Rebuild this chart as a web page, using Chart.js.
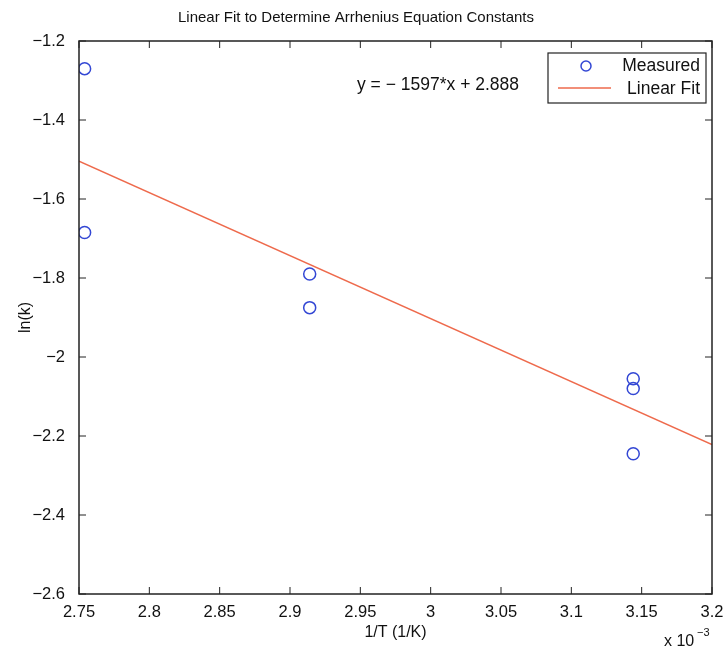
<!DOCTYPE html>
<html>
<head>
<meta charset="utf-8">
<script src="https://cdn.jsdelivr.net/npm/chart.js@4/dist/chart.umd.min.js"></script>
<style>
  html, body { margin: 0; padding: 0; background: #fff; }
  #wrap { width: 725px; height: 650px; }
</style>
</head>
<body>
<div id="wrap"><canvas id="chart1" width="725" height="650"></canvas></div>
<script>
// valores (x en unidades de 1e-3)
const invT = [2.754, 2.754, 2.914, 2.914, 3.144, 3.144, 3.144];
const lnK = [-1.27, -1.685, -1.79, -1.875, -2.055, -2.08, -2.245];
const fitX = [2.75, 3.2];
const fitY = [-1.504, -2.222];
const xTicks = [2.75, 2.8, 2.85, 2.9, 2.95, 3, 3.05, 3.1, 3.15, 3.2];
const yTicks = [-2.6, -2.4, -2.2, -2, -1.8, -1.6, -1.4, -1.2];
const equationText = "y = \u2212 1597*x + 2.888";

const FONT = "'Liberation Sans', Arial, sans-serif";
const BLUE = "#3347d4";
const RED = "#ee6a4c";

const minus = v => String(v).replace("-", "\u2212");

// marco, ticks hacia adentro, leyenda y textos extra estilo matlab
const matlabBox = {
  id: "matlabBox",
  afterDraw(chart) {
    const { ctx, chartArea: a, scales } = chart;
    ctx.save();
    ctx.strokeStyle = "#222";
    ctx.lineWidth = 1.5;
    ctx.strokeRect(a.left, a.top, a.right - a.left, a.bottom - a.top);
    ctx.lineWidth = 1;
    const tl = 7;
    xTicks.forEach(t => {
      const px = scales.x.getPixelForValue(t);
      ctx.beginPath();
      ctx.moveTo(px, a.bottom); ctx.lineTo(px, a.bottom - tl);
      ctx.moveTo(px, a.top); ctx.lineTo(px, a.top + tl);
      ctx.stroke();
    });
    yTicks.forEach(t => {
      const py = scales.y.getPixelForValue(t);
      ctx.beginPath();
      ctx.moveTo(a.left, py); ctx.lineTo(a.left + tl, py);
      ctx.moveTo(a.right, py); ctx.lineTo(a.right - tl, py);
      ctx.stroke();
    });

    // ecuacion
    ctx.fillStyle = "#111";
    ctx.font = "17.5px " + FONT;
    ctx.textBaseline = "middle";
    ctx.textAlign = "left";
    ctx.fillText(equationText, 357, 85);

    // leyenda
    ctx.fillStyle = "#fff";
    ctx.fillRect(548, 53, 158, 50);
    ctx.strokeStyle = "#222";
    ctx.lineWidth = 1.2;
    ctx.strokeRect(548, 53, 158, 50);
    ctx.strokeStyle = BLUE;
    ctx.lineWidth = 1.5;
    ctx.beginPath();
    ctx.arc(586, 66, 5, 0, Math.PI * 2);
    ctx.stroke();
    ctx.strokeStyle = RED;
    ctx.beginPath();
    ctx.moveTo(558, 88); ctx.lineTo(611, 88);
    ctx.stroke();
    ctx.fillStyle = "#111";
    ctx.font = "17.5px " + FONT;
    ctx.textAlign = "right";
    ctx.fillText("Measured", 700, 66);
    ctx.fillText("Linear Fit", 700, 89);

    // multiplicador del eje x
    ctx.textAlign = "left";
    ctx.font = "16px " + FONT;
    ctx.fillText("x 10", 664, 642);
    ctx.font = "11px " + FONT;
    ctx.fillText("\u22123", 697, 633);
    ctx.restore();
  }
};

new Chart(document.getElementById("chart1"), {
  type: "scatter",
  data: {
    datasets: [
      {
        label: "Measured",
        data: invT.map((x, i) => ({ x: x, y: lnK[i] })),
        showLine: false,
        pointRadius: 6,
        pointBorderWidth: 1.5,
        pointBackgroundColor: "rgba(0,0,0,0)",
        borderColor: BLUE
      },
      {
        label: "Linear Fit",
        data: fitX.map((x, i) => ({ x: x, y: fitY[i] })),
        showLine: true,
        pointRadius: 0,
        borderColor: RED,
        borderWidth: 1.5
      }
    ]
  },
  options: {
    responsive: false,
    animation: false,
    layout: { padding: { left: 0, right: 13, top: 0, bottom: 0 } },
    plugins: {
      legend: { display: false },
      tooltip: { enabled: false },
      title: {
        display: true,
        text: "Linear Fit to Determine Arrhenius Equation Constants",
        color: "#111",
        font: { family: FONT, size: 15, weight: "normal" },
        padding: { top: 9, bottom: 14 }
      }
    },
    scales: {
      x: {
        type: "linear",
        min: 2.75,
        max: 3.2,
        afterBuildTicks: s => { s.ticks = xTicks.map(v => ({ value: v })); },
        afterFit: s => { s.height = 56; s.paddingLeft = 0; s.paddingRight = 0; },
        grid: { display: false },
        border: { display: false },
        ticks: {
          color: "#111",
          padding: 1,
          maxRotation: 0,
          font: { family: FONT, size: 16.5 },
          callback: v => minus(v)
        },
        title: {
          display: true,
          text: "1/T (1/K)",
          color: "#111",
          font: { family: FONT, size: 16 },
          padding: { top: 2, bottom: 8 }
        }
      },
      y: {
        type: "linear",
        min: -2.6,
        max: -1.2,
        afterBuildTicks: s => { s.ticks = yTicks.map(v => ({ value: v })); },
        afterFit: s => { s.width = 79; },
        grid: { display: false },
        border: { display: false },
        ticks: {
          color: "#111",
          padding: 6,
          font: { family: FONT, size: 16.5 },
          callback: v => minus(v)
        },
        title: {
          display: true,
          text: "ln(k)",
          color: "#111",
          font: { family: FONT, size: 16 },
          padding: { top: 16, bottom: 0 }
        }
      }
    }
  },
  plugins: [matlabBox]
});
</script>
</body>
</html>
